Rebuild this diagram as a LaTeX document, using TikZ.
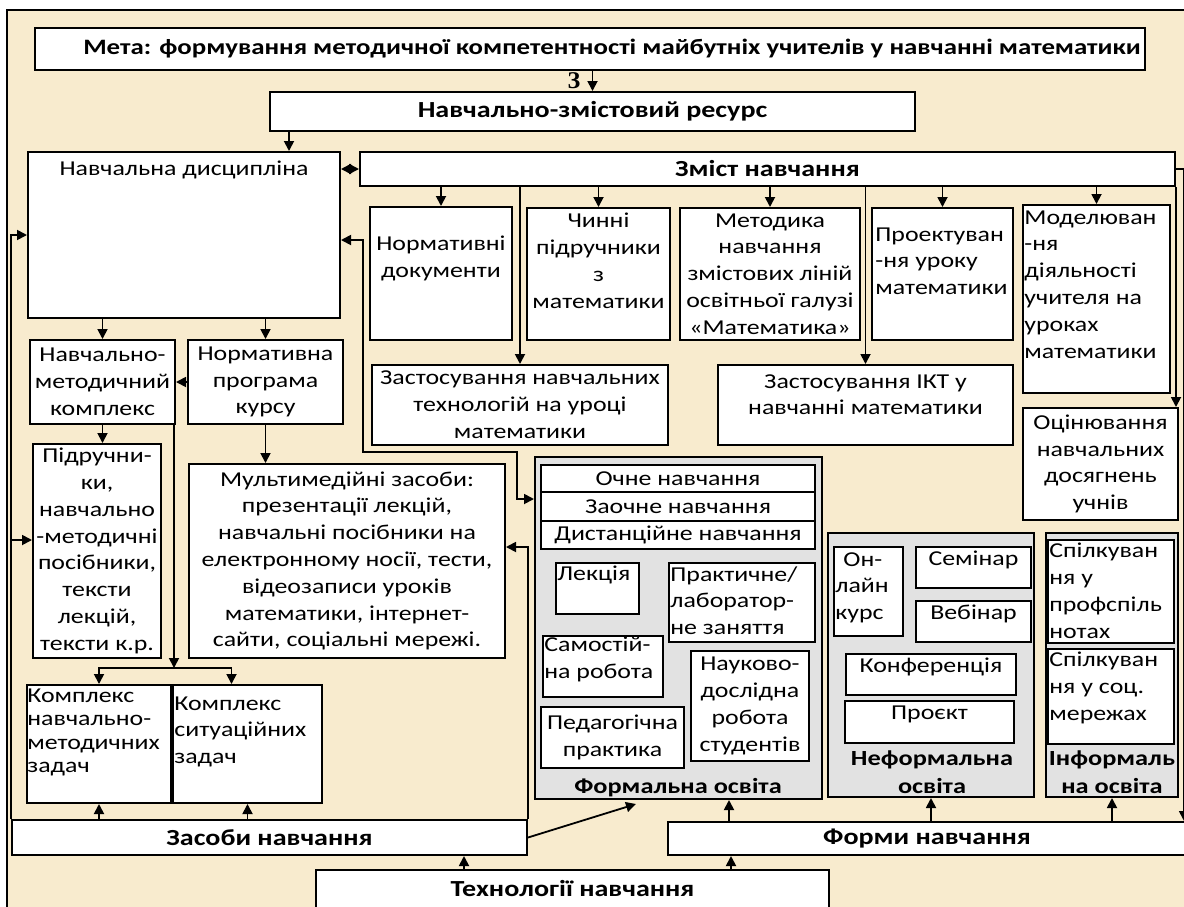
\documentclass[tikz,border=0pt]{standalone}
\usepackage{fontspec}
\setmainfont{Carlito}[FakeStretch=1.22]
\newfontfamily\zfont{Liberation Serif}
\usetikzlibrary{arrows.meta,positioning}
\definecolor{parch}{RGB}{248,235,206}
\definecolor{grp}{RGB}{226,226,226}

\tikzset{
  box/.style={draw, fill=white, line width=1pt, inner sep=0.5pt, align=center},
  grpbox/.style={draw, fill=grp, line width=1pt},
  txt/.style={inner sep=0pt, align=center},
  lt/.style={inner sep=0pt, align=left},
  hd/.style={font=\fontsize{11.5}{13.6}\selectfont\bfseries},
  grplabel/.style={txt, font=\fontsize{10.8}{14}\selectfont\bfseries},
  arr/.style={-{Triangle[length=5pt,width=5pt]}, line width=0.9pt},
  dblarr/.style={{Triangle[length=5pt,width=5pt]}-{Triangle[length=5pt,width=5pt]}, line width=0.9pt},
}

\begin{document}
\begin{tikzpicture}[x=0.5pt, y=-0.5pt, font=\fontsize{10.6}{13.4}\selectfont]
\clip (0,0) rectangle (1184,906);
\draw[fill=parch, line width=1pt] (7,10) rectangle (1195,920);

% goal and resource
\node[box, minimum width=555pt, minimum height=21pt] (goal) at (590,49) {};
\node[txt, font=\fontsize{11}{13}\selectfont\bfseries] (goal-t) at (612,49) {Мета: формування методичної компетентності майбутніх учителів у навчанні математики};
\node[box, hd, minimum width=322.5pt, minimum height=19.5pt] (res) at (592.5,111.5) {Навчально-змістовий ресурс};
\node[inner sep=0pt, font=\zfont\fontsize{12}{12}\selectfont\bfseries] (z) at (574,81) {З};
\node[box, minimum width=156pt, minimum height=83pt] (disc) at (184,235) {};
\node[txt, below=5pt of disc.north] (disc-t) {Навчальна дисципліна};
\node[box, hd, minimum width=407.5pt, minimum height=17pt] (zmist) at (767.5,169) {Зміст навчання};

% content of learning
\node[box, minimum width=71pt, minimum height=66.5pt] (normdoc) at (441,273.5) {};
\node[txt, below=15pt of normdoc.north] (normdoc-t) {Нормативні\\документи};
\node[box, minimum width=71.5pt, minimum height=66pt] (chynni) at (598.5,274) {};
\node[txt, below=3pt of chynni.north] (chynni-t) {Чинні\\підручники\\з\\математики};
\node[box, minimum width=90pt, minimum height=66pt] (metod) at (770,274) {Методика\\навчання\\змістових ліній\\освітньої галузі\\«Математика»};
\node[box, minimum width=70.5pt, minimum height=66pt] (proekt) at (942.5,274) {};
\node[lt, below right=10pt and 2pt of proekt.north west] (proekt-t) {Проектуван\\-ня уроку\\математики};
\node[box, minimum width=73.5pt, minimum height=94pt] (model) at (1096.5,299) {};
\node[lt, below right=3pt and 1pt of model.north west] (model-t) {Моделюван\\-ня\\діяльності\\учителя на\\уроках\\математики};
\node[box, minimum width=148pt, minimum height=40pt] (zasttech) at (520,405) {Застосування навчальних\\технологій на уроці\\математики};
\node[box, minimum width=147.5pt, minimum height=40pt] (zastikt) at (865.5,405) {};
\node[txt, below=5pt of zastikt.north] (zastikt-t) {Застосування ІКТ у\\навчанні математики};
\node[box, minimum width=77.5pt, minimum height=56pt] (ocin) at (1100.5,464) {Оцінювання\\навчальних\\досягнень\\учнів};

% left column
\node[box, minimum width=72.5pt, minimum height=42pt] (nmk) at (102.5,382) {Навчально-\\методичний\\комплекс};
\node[box, minimum width=77.5pt, minimum height=42pt] (np) at (265.5,382) {Нормативна\\програма\\курсу};
\node[box, minimum width=64pt, minimum height=107pt] (pidr) at (97,551) {Підручни-\\ки,\\навчально\\-методичні\\посібники,\\тексти\\лекцій,\\тексти к.р.};
\node[box, minimum width=158pt, minimum height=97pt] (mult) at (347,561) {Мультимедійні засоби:\\презентації лекцій,\\навчальні посібники на\\електронному носії, тести,\\відеозаписи уроків\\математики, інтернет-\\сайти, соціальні мережі.};
\node[box, minimum width=72pt, minimum height=59pt] (knmz) at (99,744) {};
\node[lt, below right=2pt and 0.5pt of knmz.north west, font=\fontsize{10.6}{11.8}\selectfont] (knmz-t) {Комплекс\\навчально-\\методичних\\задач};
\node[box, minimum width=74.5pt, minimum height=59pt] (ksz) at (247.5,744) {};
\node[lt, below right=6pt and 1pt of ksz.north west] (ksz-t) {Комплекс\\ситуаційних\\задач};

% bottom bars
\node[box, hd, minimum width=257.5pt, minimum height=17.5pt] (zasoby) at (269.5,837.5) {Засоби навчання};
\node[box, hd, minimum width=256.5pt, minimum height=19pt] (tech) at (572.5,889) {Технології навчання};
\node[box, hd, minimum width=259pt, minimum height=16.5pt] (formy) at (927,838.5) {Форми навчання};

% formal education
\node[grpbox, minimum width=143.5pt, minimum height=171pt] (formal) at (678.5,628) {};
\node[box, minimum width=137pt, minimum height=13.5pt] (ochne) at (678,478.5) {Очне навчання};
\node[box, minimum width=137pt, minimum height=14.5pt] (zaochne) at (678,506.5) {Заочне навчання};
\node[box, minimum width=137pt, minimum height=14pt] (dist) at (678,535) {Дистанційне навчання};
\node[box, minimum width=41.5pt, minimum height=25.5pt] (lekc) at (597.5,588.5) {};
\node[lt, below right=2pt and 1pt of lekc.north west] (lekc-t) {Лекція};
\node[box, minimum width=73pt, minimum height=39.5pt] (prakt) at (742,602.5) {};
\node[lt, below right=2pt and 1pt of prakt.north west] (prakt-t) {Практичне/\\лаборатор-\\не заняття};
\node[box, minimum width=60pt, minimum height=30.5pt] (samost) at (603,666.5) {};
\node[lt, below right=1pt and 1pt of samost.north west] (samost-t) {Самостій-\\на робота};
\node[box, minimum width=59pt, minimum height=55pt] (nauk) at (750,706) {Науково-\\дослідна\\робота\\студентів};
\node[box, minimum width=71.5pt, minimum height=30.5pt] (ped) at (612.5,737.5) {Педагогічна\\практика};
\node[grplabel] (formal-t) at (678,788) {Формальна освіта};

% non-formal education
\node[grpbox, minimum width=103pt, minimum height=132pt] (neform) at (931,665) {};
\node[box, minimum width=34.5pt, minimum height=44.5pt] (online) at (868.5,591.5) {};
\node[lt, below right=3pt and 1pt of online.north west] (online-t) {\hspace*{4pt}Он-\\лайн\\курс};
\node[box, minimum width=57.5pt, minimum height=20.5pt] (semin) at (973.5,567.5) {};
\node[txt, below=2.5pt of semin.north] (semin-t) {Семінар};
\node[box, minimum width=57.5pt, minimum height=20.5pt] (webin) at (973.5,621.5) {};
\node[txt, below=2.5pt of webin.north] (webin-t) {Вебінар};
\node[box, minimum width=85pt, minimum height=20.5pt] (konf) at (931,674.5) {};
\node[txt, below=2.5pt of konf.north] (konf-t) {Конференція};
\node[box, minimum width=84.5pt, minimum height=21pt] (proj) at (929.5,722) {};
\node[txt, below=2.5pt of proj.north] (proj-t) {Проєкт};
\node[grplabel] (neform-t) at (932,772) {Неформальна\\освіта};

% informal education
\node[grpbox, minimum width=66pt, minimum height=132pt] (inform) at (1112,665) {};
\node[box, minimum width=63pt, minimum height=51.5pt] (spil1) at (1111,591.5) {};
\node[lt, below right=2pt and 1pt of spil1.north west] (spil1-t) {Спілкуван\\ня у\\профспіль\\нотах};
\node[box, minimum width=63pt, minimum height=47.5pt] (spil2) at (1111,696.5) {};
\node[lt, below right=2pt and 1pt of spil2.north west] (spil2-t) {Спілкуван\\ня у соц.\\мережах};
\node[grplabel] (inform-t) at (1112,772) {Інформаль\\на освіта};

% connectors
\draw[arr] (goal.south -| res.north) -- (res.north);
\draw[arr] ([xshift=10pt]res.south west) -- ([xshift=10pt]res.south west |- disc.north);
\draw[dblarr] (zmist.west -| disc.east) -- (zmist.west);
\foreach \n in {normdoc,chynni,metod,proekt,model,zasttech,zastikt}
  \draw[arr] (zmist.south -| \n.north) -- (\n.north);
\draw[arr] (zmist.south east) -- (zmist.south east |- ocin.north);
\draw[arr] (zmist.east) -- ++(4pt,0) coordinate (zr) -- (zr |- formy.north);
\draw[arr] (disc.south -| nmk.north) -- (nmk.north);
\draw[arr] (disc.south -| np.north) -- (np.north);
\draw[arr] (np.west) -- (nmk.east);
\draw[arr] (nmk.south) -- (nmk.south |- pidr.north);
\draw[arr] (np.south) -- (np.south |- mult.north);
\coordinate (kj) at ([xshift=-1pt, yshift=-121.5pt]nmk.south east);
\draw[arr] ([xshift=-1pt]nmk.south east) -- (kj);
\draw[arr] (kj) -| (knmz.north);
\draw[arr] (kj) -| ([xshift=-8pt]ksz.north);
\draw[arr] (zasoby.north -| knmz.south) -- (knmz.south);
\draw[arr] (zasoby.north -| ksz.south) -- (ksz.south);
\draw[arr] (zasoby.north west) |- (disc.west);
\draw[arr] (zasoby.north west) |- ([yshift=5.5pt]pidr.west);
\draw[arr] (zasoby.north east) |- ([yshift=7pt]mult.east);
\draw[arr] (zasoby.east) -- ([xshift=51pt, yshift=-2pt]formal.south west);
\draw[arr] ([xshift=74.5pt]tech.north west) -- ([xshift=74.5pt]tech.north west |- zasoby.south);
\draw[arr] ([xshift=32pt]formy.south west |- tech.north) -- ([xshift=32pt]formy.south west);
\draw[arr] ([xshift=31pt]formy.north west) -- ([xshift=31pt]formy.north west |- formal.south);
\draw[arr] (formy.north -| neform.south) -- (neform.south);
\draw[arr] (formy.north -| inform.south) -- (inform.south);
\coordinate (fin) at ([yshift=-21.5pt]formal.north west);
\draw[dblarr] ([yshift=-2.5pt]disc.east) -- ++(11pt,0) -- ++(0,-106pt) -| ([xshift=-8.5pt]fin) -- (fin);
\end{tikzpicture}
\end{document}
